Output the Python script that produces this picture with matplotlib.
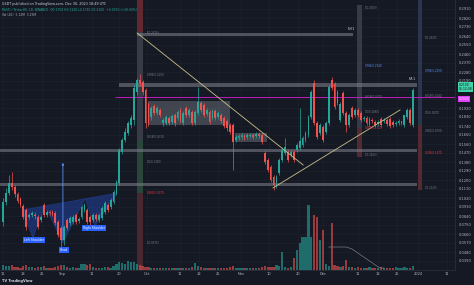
import matplotlib
matplotlib.use("Agg")
import matplotlib.pyplot as plt
import numpy as np
from matplotlib.patches import Rectangle, Polygon
from matplotlib.transforms import blended_transform_factory

BG = '#151924'
UP = '#26a69a'
DN = '#ef5350'
TXT = '#b2b5be'

# ---- OHLC data (price in 1e-3 USDT units) ----
opens = [78, 98, 107, 117, 113, 106, 101, 94, 90, 83, 85, 85, 83, 80, 95, 85, 88, 88, 87, 78,
         72, 60, 80, 77, 78, 85, 79, 83, 90, 90, 83, 80, 85, 80, 82, 88, 95, 93, 98, 107,
         117, 148, 160, 167, 175, 180, 208, 220, 218, 210, 196, 183, 194, 187, 190, 177, 177, 182, 178, 185,
         182, 190, 177, 192, 185, 188, 177, 187, 197, 195, 186, 188, 182, 189, 183, 185, 182, 179, 175, 175,
         160, 162, 163, 164, 163, 164, 165, 164, 166, 165, 147, 140, 133, 123, 117, 127, 140, 147, 148, 145,
         148, 150, 152, 155, 160, 165, 183, 217, 177, 167, 173, 168, 177, 220, 216, 208, 180, 207, 187, 175,
         192, 185, 190, 187, 181, 182, 176, 180, 178, 176, 181, 179, 180, 181, 178, 176, 177, 177, 175, 183,
         190, 175]
closes = [98, 107, 117, 113, 106, 99, 95, 83, 73, 85, 87, 84, 73, 83, 85, 88, 87, 86, 77, 65,
          60, 73, 72, 82, 83, 78, 81, 93, 95, 78, 78, 85, 81, 85, 92, 97, 90, 100, 108, 118,
          150, 160, 168, 177, 182, 212, 220, 217, 208, 177, 177, 192, 187, 192, 185, 180, 183, 177, 184, 177,
          188, 179, 187, 185, 190, 177, 188, 198, 190, 185, 190, 178, 189, 182, 187, 179, 174, 172, 168, 158,
          163, 164, 165, 162, 165, 165, 163, 166, 164, 158, 138, 130, 120, 115, 123, 140, 150, 153, 140, 148,
          140, 155, 159, 162, 167, 183, 208, 177, 163, 175, 160, 177, 213, 212, 193, 197, 196, 187, 175, 185,
          183, 190, 185, 180, 182, 177, 181, 179, 175, 178, 175, 180, 176, 174, 175, 177, 179, 179, 185, 190,
          177, 210]
highs = [102, 112, 125, 128, 115, 108, 103, 96, 92, 87, 89, 88, 85, 85, 97, 90, 90, 90, 89, 80,
         74, 75, 82, 84, 85, 87, 83, 95, 97, 92, 85, 87, 87, 87, 94, 99, 97, 102, 110, 120,
         152, 162, 172, 179, 185, 215, 222, 226, 220, 212, 198, 194, 196, 194, 192, 182, 185, 184, 186, 187,
         190, 192, 189, 194, 192, 190, 190, 213, 199, 197, 192, 190, 191, 191, 189, 187, 184, 181, 177, 177,
         165, 166, 167, 166, 167, 167, 167, 168, 168, 167, 149, 142, 135, 125, 125, 142, 152, 162, 150, 150,
         150, 157, 192, 164, 169, 185, 210, 220, 179, 177, 175, 179, 215, 223, 218, 210, 198, 209, 189, 187,
         194, 192, 192, 189, 184, 184, 183, 182, 180, 180, 183, 182, 182, 183, 180, 179, 181, 179, 185, 192,
         192, 212]
lows = [74, 95, 105, 110, 103, 97, 93, 81, 70, 81, 83, 81, 71, 78, 83, 83, 85, 84, 75, 63,
        52, 55, 70, 75, 76, 76, 77, 81, 88, 76, 75, 78, 79, 78, 80, 86, 88, 91, 96, 105,
        115, 146, 158, 165, 172, 175, 205, 214, 205, 172, 174, 180, 185, 185, 183, 174, 175, 175, 176, 174,
        180, 177, 175, 183, 183, 175, 175, 185, 188, 183, 184, 176, 180, 180, 181, 177, 172, 169, 166, 130,
        158, 160, 161, 160, 161, 162, 161, 162, 162, 156, 136, 128, 118, 110, 112, 125, 138, 145, 138, 143,
        138, 148, 150, 153, 158, 163, 181, 175, 161, 165, 158, 166, 175, 210, 191, 195, 178, 185, 168, 173,
        181, 183, 183, 178, 179, 175, 174, 177, 173, 174, 173, 177, 174, 172, 173, 174, 175, 175, 173, 181,
        175, 173]
volumes = [5, 4, 4, 5, 3, 3, 2, 4, 5, 3, 3, 2, 3, 3, 4, 2, 2, 2, 3, 4,
           5, 5, 3, 2, 3, 2, 2, 6, 6, 5, 6, 3, 2, 2, 2, 3, 3, 2, 4, 6,
           8, 7, 6, 9, 8, 8, 6, 5, 4, 3, 3, 2, 2, 2, 2, 2, 2, 2, 2, 2,
           2, 2, 2, 2, 2, 3, 7, 4, 3, 2, 2, 2, 2, 2, 2, 2, 2, 2, 3, 4,
           2, 2, 2, 2, 2, 2, 2, 2, 2, 3, 4, 3, 3, 3, 5, 4, 18, 3, 2, 3,
           12, 20, 27, 33, 33, 65, 33, 55, 53, 30, 40, 6, 4, 47, 5, 4, 3, 4, 10, 3,
           3, 2, 3, 2, 2, 2, 3, 2, 2, 2, 3, 2, 2, 2, 2, 3, 2, 2, 3, 2,
           2, 4]
vol_ma_x = list(range(112, 132))
vol_ma = [23, 23, 23, 23, 23, 23, 23, 22, 21, 19, 17, 15, 13, 11, 9, 7, 5, 3, 2, 2]

price_ticks = list(range(39, 292, 9))
# labels hidden behind the last-price / line markers on the scale
price_hidden = [201, 210]
price_labels = ["" if p in price_hidden else f"{p / 1000:.4f}" for p in price_ticks]
date_ticks = [0, 6.9, 13.4, 20.3, 30.6, 39.9, 49.5, 60.9, 67.4, 73.9, 81.8, 91.5, 101.4, 110, 122, 129, 135.5, 142.7, 152.7]
date_labels = ["11", "18", "25", "Sep", "11", "20", "Oct", "11", "18", "25", "Nov", "10", "20", "Dec", "11", "18", "25", "2024", "11"]

# drawings: horizontal S/R bands (x0, x1, lo, hi)
bands = [(46, 120.4, 264, 267), (40, 142.4, 213, 217), (-1.2, 142.4, 148, 151), (-1.2, 142.4, 114, 117)]
boxes = [(49.9, 78, 175, 199), (79.8, 90.8, 158, 167)]
columns = [(46.1, 48.1, 268, 300, '#6b2a31'), (46.1, 48.1, 160, 268, '#3b3f4c'),
           (46.1, 48.1, 107, 160, '#2d4a3d'), (46.1, 48.1, 20, 107, '#4e2a30'),
           (121.7, 123.5, 172, 295, '#3b3f4c'), (121.7, 123.5, 143, 172, '#5a2c33'),
           (142.7, 144.1, 175, 300, '#2c3a52'), (142.7, 144.1, 110, 175, '#5a2c33')]
trend1_x, trend1_y = [46.1, 103.2], [267, 135]
trend2_x, trend2_y = [92.8, 136.5], [112, 190]
hs_x = [6.5, 10.3, 14.4, 20.6, 28.2, 31.6, 39.2]
hs_y = [90, 62, 94, 57, 101, 74, 107]

fib_labels = [(49.5, 267, "1(0.2670)", '#787b86'), (49.5, 225, "0.786(0.2250)", '#787b86'),
              (49.5, 163, "0.618(0.1630)", '#787b86'), (49.5, 138, "0.5(0.1380)", '#787b86'),
              (49.5, 107, "0.382(0.1070)", '#f23645'), (49.5, 57, "0(0.0570)", '#787b86'),
              (124.5, 292, "1(0.2920)", '#787b86'), (124.5, 234, "0.786(0.2340)", '#5b8def'),
              (124.5, 203, "0.618(0.2030)", '#787b86'), (124.5, 188, "0.5(0.1880)", '#787b86'),
              (124.5, 172, "0.382(0.1720)", '#f23645'), (124.5, 145, "0(0.1450)", '#787b86'),
              (145.0, 262, "1(0.2620)", '#787b86'), (145.0, 229, "0.786(0.2290)", '#5b8def'),
              (145.0, 204, "0.618(0.2040)", '#787b86'), (145.0, 187, "0.5(0.1870)", '#787b86'),
              (145.0, 169, "0.382(0.1690)", '#787b86'), (145.0, 147, "0.236(0.1470)", '#f23645'),
              (145.0, 112, "0(0.1120)", '#787b86')]

W, H = 474, 285
fig = plt.figure(figsize=(W / 100, H / 100), dpi=100, facecolor=BG)
ax = fig.add_axes([0, (H - 270) / H, 455 / W, 270 / H])
ax.set_facecolor(BG)
ax.set_xlim(-1.03, 155.4)
ax.set_ylim(30, 300)

# volume (twin axes, created first so the price scale stays on the right)
vax = ax.twinx()
vax.set_ylim(0, 270)

ax.set_yticks(price_ticks)
ax.set_yticklabels(price_labels)
ax.yaxis.tick_right()
ax.yaxis.set_label_position('right')
ax.set_xticks(date_ticks)
ax.set_xticklabels(date_labels)
ax.tick_params(axis='y', length=0, labelsize=2.6, colors=TXT, pad=2.5, left=False, labelleft=False,
               right=True, labelright=True)
ax.tick_params(axis='x', length=0, labelsize=2.6, colors=TXT, pad=1.5)
ax.grid(color='#1e222d', lw=0.4)
ax.set_axisbelow(True)
for s in ['top', 'left']:
    ax.spines[s].set_visible(False)
for s in ['right', 'bottom']:
    ax.spines[s].set_color('#2a2e39')
    ax.spines[s].set_linewidth(0.6)

# vertical fib columns
for x0, x1, lo, hi, col in columns:
    ax.add_patch(Rectangle((x0, lo), x1 - x0, hi - lo, facecolor=col, edgecolor='none', alpha=0.9, zorder=1))

# bands and boxes
for x0, x1, lo, hi in bands:
    ax.add_patch(Rectangle((x0, lo), x1 - x0, hi - lo, facecolor='#787b86', edgecolor='none', alpha=0.6, zorder=1.5))
for x0, x1, lo, hi in boxes:
    ax.add_patch(Rectangle((x0, lo), x1 - x0, hi - lo, facecolor='#9598a1', edgecolor='none', alpha=0.35, zorder=1.5))

# head & shoulders
ax.add_patch(Polygon(list(zip(hs_x, hs_y)), closed=True, facecolor='#2962ff', alpha=0.3, edgecolor='#2962ff', lw=0.5, zorder=1.6))
ax.annotate('', xy=(20.6, 140), xytext=(20.6, 57),
            arrowprops=dict(arrowstyle='-|>', color='#5b8def', lw=0.6, mutation_scale=3), zorder=3)
for tx, ty, t in [(10.7, 60, "Left Shoulder"), (21.0, 50, "Head"), (31.3, 72, "Right Shoulder")]:
    ax.text(tx, ty, t, fontsize=2.2, color='white', ha='center', va='center', zorder=5,
            bbox=dict(boxstyle='square,pad=0.35', fc='#2962ff', ec='none'))

# magenta line
ax.hlines(203, 38.5, 155.4, color='#d81bd8', lw=0.6, zorder=2)

# candles
x = np.arange(len(closes))
o = np.array(opens)
c = np.array(closes)
cols = np.where(c >= o, UP, DN)
ax.vlines(x, lows, highs, colors=cols, lw=0.5, zorder=3)
ax.bar(x, np.maximum(np.abs(c - o), 0.9), bottom=np.minimum(o, c), width=0.62, color=cols, lw=0, zorder=3)

# trend lines
ax.plot(trend1_x, trend1_y, color='#c8c08a', lw=0.6, zorder=4)
ax.plot(trend2_x, trend2_y, color='#c8c08a', lw=0.6, zorder=4)

# fib labels
for fx, fy, t, col in fib_labels:
    ax.text(fx, fy, t, fontsize=1.9, color=col, ha='left', va='center', zorder=5)
ax.text(119.5, 269, "SH 1", fontsize=1.9, color='white', ha='center', va='bottom', zorder=5)
ax.text(140.5, 219, "SR 1", fontsize=1.9, color='white', ha='center', va='bottom', zorder=5)

# price labels on scale
tr = blended_transform_factory(ax.transAxes, ax.transData)
ax.text(1.008, 213, "0.2100\n05:12:08", transform=tr, fontsize=2.2, color='#131722', ha='left', va='center',
        linespacing=1.0, clip_on=False, zorder=6, bbox=dict(boxstyle='square,pad=0.3', fc='#3fd3a7', ec='none'))
ax.text(1.008, 201, "0.2030", transform=tr, fontsize=2.2, color='white', ha='left', va='center',
        clip_on=False, zorder=6, bbox=dict(boxstyle='square,pad=0.25', fc='#e040fb', ec='none'))

vax.set_xlim(ax.get_xlim())
vax.bar(x, volumes, width=0.78, color=cols, alpha=0.6, lw=0)
vax.plot(vol_ma_x, vol_ma, color='#787b86', lw=0.5)
vax.set_yticks([])
vax.tick_params(left=False, right=False, labelleft=False, labelright=False)
for s in vax.spines.values():
    s.set_visible(False)
vax.patch.set_visible(False)

# header / footer
fig.text(2 / W, 1 - 4 / H, "USDT published on TradingView.com, Dec 30, 2023 18:49 UTC",
         fontsize=2.4, color='#d1d4dc', va='center')
fig.text(2 / W, 1 - 10 / H, "MULTI / TetherUS, 1D, BINANCE  O0.1750 H0.2120 L0.1730 C0.2100  +0.0350 (+20.00%)",
         fontsize=2.2, color='#26a69a', va='center')
fig.text(2 / W, 1 - 15 / H, "Vol (20)  5.12M  3.25M", fontsize=2.2, color='#b2b5be', va='center')
fig.text(2 / W, 1 - 281 / H, "TV TradingView", fontsize=2.5, color='#d1d4dc', va='center', weight='bold')

fig.savefig("out.png", dpi=100, facecolor=BG)
